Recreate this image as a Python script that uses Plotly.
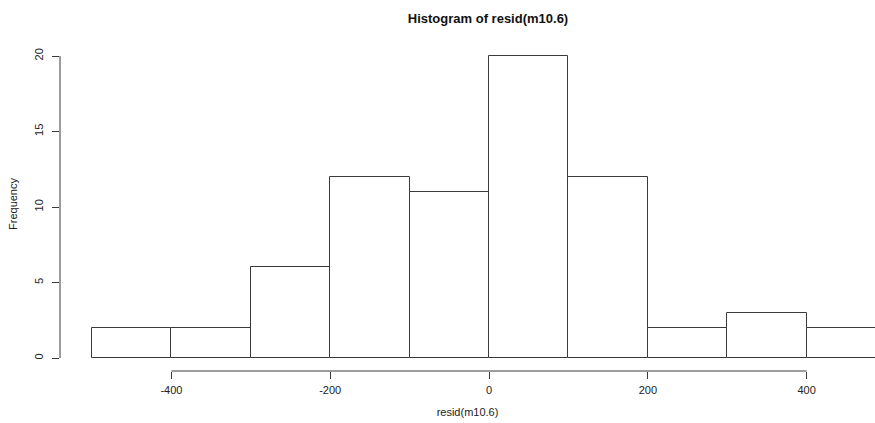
import plotly.graph_objects as go

bin_edges = [-500, -400, -300, -200, -100, 0, 100, 200, 300, 400, 500]
counts = [2, 2, 6, 12, 11, 20, 12, 2, 3, 2]
x_ticks = [-400, -200, 0, 200, 400]
y_ticks = [0, 5, 10, 15, 20]

centers = [(a + b) / 2 for a, b in zip(bin_edges[:-1], bin_edges[1:])]
widths = [b - a for a, b in zip(bin_edges[:-1], bin_edges[1:])]

W, H = 875, 423
top, bottom_px = 50, 380          # paper area top / bottom (px)
y_top_px = 56                      # where y=20 sits
plot_bottom = 358                  # y=0 line
axis_y = 371                       # R-style detached x axis
paper_h = bottom_px - top
dom_low = (bottom_px - plot_bottom) / paper_h
axis_pos = (bottom_px - axis_y) / paper_h
y_max = max(y_ticks) * (plot_bottom - top) / (plot_bottom - y_top_px)

line_col = "#3a3a3a"
font = dict(family="Liberation Sans, Arial, sans-serif", size=11, color="#222")

fig = go.Figure()
fig.add_trace(go.Bar(
    x=centers, y=counts, width=widths,
    marker=dict(color="white", line=dict(color=line_col, width=1)),
    showlegend=False, hoverinfo="x+y",
))

fig.update_layout(
    width=W, height=H,
    margin=dict(l=60, r=0, t=top, b=H - bottom_px, pad=0),
    paper_bgcolor="white", plot_bgcolor="white",
    font=font,
    title=dict(text="<b>Histogram of resid(m10.6)</b>", x=488 / W, xref="container",
               xanchor="center", y=1 - 18 / H, yref="container", yanchor="middle",
               font=dict(family="Liberation Sans, Arial, sans-serif", size=13, color="#111")),
    bargap=0,
    xaxis=dict(
        range=[-540.3, 486.1], anchor="free", position=axis_pos,
        tickvals=x_ticks, ticktext=[str(v) for v in x_ticks],
        ticks="outside", ticklen=7, tickcolor=line_col, tickwidth=1,
        showline=False, showgrid=False, zeroline=False, fixedrange=True,
        ticklabelstandoff=2,
        title=dict(text="resid(m10.6)", font=font, standoff=13),
    ),
    yaxis=dict(
        range=[0, y_max], domain=[dom_low, 1],
        tickvals=y_ticks, ticktext=[str(v) for v in y_ticks],
        ticks="outside", ticklen=7, tickcolor=line_col, tickwidth=1,
        tickangle=-90, showline=False,
        showgrid=False, zeroline=False, fixedrange=True,
        ticklabelstandoff=5,
        title=dict(text="Frequency", font=font, standoff=12),
    ),
    shapes=[
        dict(type="line", xref="x", yref="paper",
             x0=min(x_ticks), x1=max(x_ticks), y0=axis_pos, y1=axis_pos,
             line=dict(color=line_col, width=1)),
        dict(type="line", xref="paper", yref="y",
             x0=0, x1=0, y0=min(y_ticks), y1=max(y_ticks),
             line=dict(color=line_col, width=1)),
    ],
)

fig.write_html("out.html")
